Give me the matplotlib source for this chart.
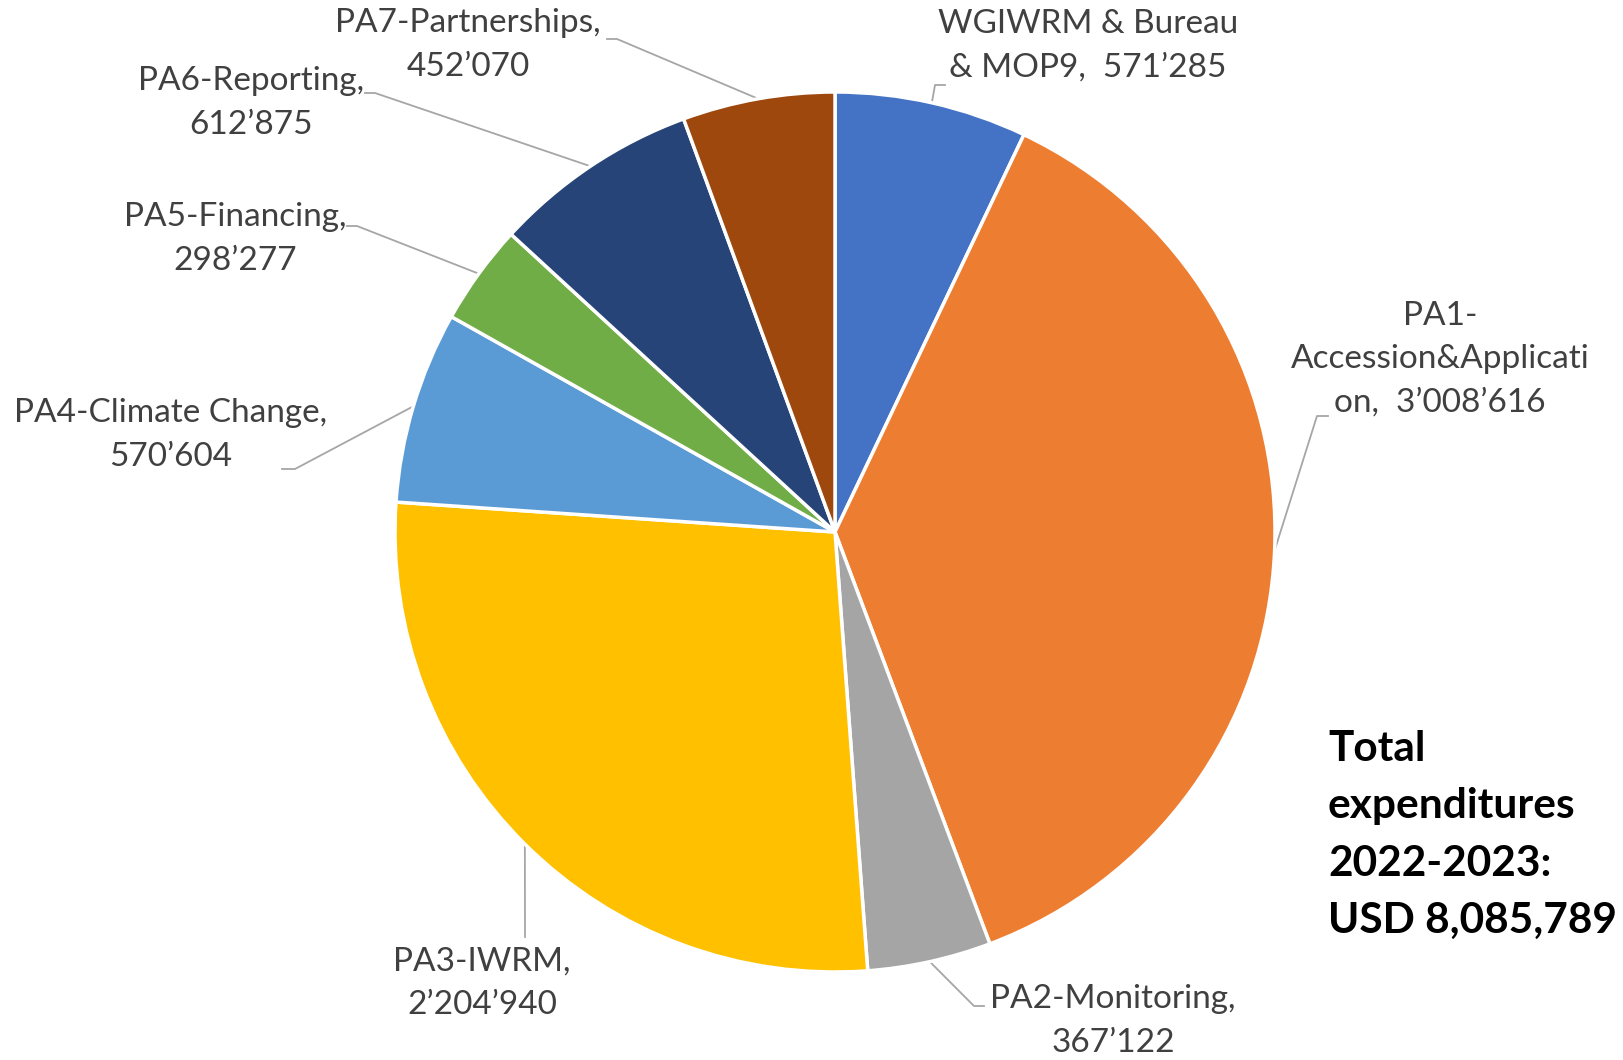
import numpy as np
import matplotlib
matplotlib.use('Agg')
import matplotlib.pyplot as plt

# data
names = ['WGIWRM & Bureau\n& MOP9,  571’285',
         'PA1-\nAccession&Applicati\non,  3’008’616',
         'PA2-Monitoring,\n367’122',
         'PA3-IWRM,\n2’204’940',
         'PA4-Climate Change,\n570’604',
         'PA5-Financing,\n298’277',
         'PA6-Reporting,\n612’875',
         'PA7-Partnerships,\n452’070']
values = [571285, 3008616, 367122, 2204940, 570604, 298277, 612875, 452070]
colors = ['#4472C4', '#ED7D31', '#A5A5A5', '#FFC000',
          '#5B9BD5', '#70AD47', '#264478', '#9E480E']

W, H = 1624, 1060
cx, cy, R = 835, 532, 440   # pie centre / radius in image pixels

# label centre and elbow of leader line (image pixels)
label_pos = [(1088, 46), (1440, 359), (1113, 1021), (482, 983),
             (171, 435), (235, 239), (251, 103), (468, 45)]
elbows = [((935, 85), (945, 85)),
          ((1317, 416), (1328, 416)),
          ((974, 1006), (984, 1006)),
          ((525, 937), (525, 937)),
          ((295, 469), (282, 469)),
          ((357, 226), (347, 226)),
          ((375, 93), (365, 93)),
          ((617, 39), (607, 39))]

plt.rcParams['font.family'] = ['Lato', 'DejaVu Sans']

fig = plt.figure(figsize=(W / 100, H / 100), dpi=100)
ax = fig.add_axes([0, 0, 1, 1])
ax.set_xlim(0, W)
ax.set_ylim(0, H)
ax.set_aspect('equal')
ax.axis('off')

wedges, _ = ax.pie(values, colors=colors, startangle=90, counterclock=False,
                   center=(cx, H - cy), radius=R,
                   wedgeprops=dict(edgecolor='white', linewidth=2.5))
ax.set_xlim(0, W)
ax.set_ylim(0, H)

for w, name, (lx, ly), (e1, e2) in zip(wedges, names, label_pos, elbows):
    ang = np.deg2rad((w.theta1 + w.theta2) / 2)
    px = cx + R * np.cos(ang)
    py = H - cy + R * np.sin(ang)
    ax.plot([px, e1[0], e2[0]], [py, H - e1[1], H - e2[1]],
            color='#A6A6A6', lw=1.3, zorder=0)
    ax.text(lx, H - ly, name, ha='center', va='center', fontsize=24,
            color='#404040', linespacing=1.55)

ax.text(1328, H - 835, 'Total\nexpenditures\n2022-2023:\nUSD 8,085,789',
        ha='left', va='center', fontsize=30.5, fontweight='bold',
        color='black', linespacing=1.62)

plt.savefig('out.png', dpi=100)
